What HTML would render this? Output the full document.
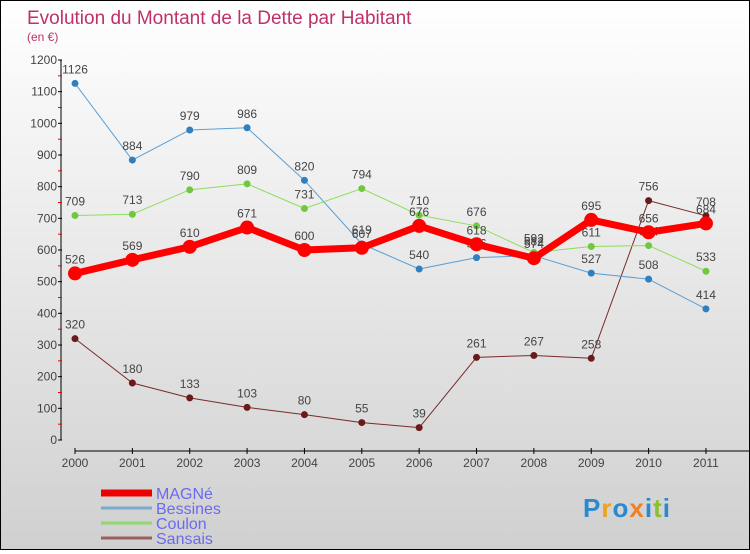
<!DOCTYPE html>
<html><head><meta charset="utf-8"><style>
html,body{margin:0;padding:0}
body{width:750px;height:550px;overflow:hidden;font-family:"Liberation Sans",sans-serif}
#wrap{position:relative;width:748px;height:548px;border:1px solid #000;background:linear-gradient(#fff 0%,#ececec 40%,#d0d0d0 100%)}
</style></head><body>
<div id="wrap">
<svg id="chart" width="748" height="548" font-family="Liberation Sans, sans-serif"></svg>
</div>
<script>
const years=["2000","2001","2002","2003","2004","2005","2006","2007","2008","2009","2010","2011"];
const magne=[526,569,610,671,600,607,676,618,574,695,656,684];
const bessines=[1126,884,979,986,820,619,540,576,582,527,508,414];
const coulon=[709,713,790,809,731,794,710,676,592,611,614,533];
const sansais=[320,180,133,103,80,55,39,261,267,258,756,708];
const yTicks=[0,100,200,300,400,500,600,700,800,900,1000,1100,1200];
const NS="http://www.w3.org/2000/svg";
const svg=document.getElementById('chart');
const X=i=>74+i*57.36;
const Y=v=>439-v*380/1200;
function mk(t,a,p){const e=document.createElementNS(NS,t);for(const k in a)e.setAttribute(k,a[k]);(p||svg).appendChild(e);return e;}
let t=mk('text',{x:26,y:23,fill:'#c0306a','font-size':19});t.textContent='Evolution du Montant de la Dette par Habitant';


t=mk('text',{x:26,y:40,fill:'#c0306a','font-size':12});t.textContent='(en €)';


// y axis
let ax=mk('line',{x1:60,y1:Y(1200),x2:60,y2:Y(0),stroke:'#000'});


yTicks.forEach(v=>{
 mk('line',{x1:57,x2:61,y1:Y(v),y2:Y(v),stroke:'#000'});
 if(v<1200) mk('line',{x1:57,x2:61,y1:Y(v+50),y2:Y(v+50),stroke:'#e00'});
 const l=mk('text',{x:56,y:Y(v)+4,'text-anchor':'end','font-size':12,fill:'#444'});l.textContent=v;
 
 
});
ax=mk('line',{x1:X(0),y1:450,x2:748,y2:450,stroke:'#000'});


years.forEach((y,i)=>{
 mk('line',{x1:X(i),x2:X(i),y1:447,y2:453,stroke:'#000'});
 const l=mk('text',{x:X(i),y:466,'text-anchor':'middle','font-size':12,fill:'#444'});l.textContent=y;
 
 
});
function series(vals,color,w,r,dot,name){
 const g=mk('g',{});
 
 
 mk('polyline',{points:vals.map((v,i)=>X(i)+','+Y(v)).join(' '),fill:'none',stroke:color,'stroke-width':w,'stroke-linejoin':'round'},g);
 vals.forEach((v,i)=>{
  const c=mk('circle',{cx:X(i),cy:Y(v),r:r,fill:dot},g);
  
  
  const l=mk('text',{x:X(i),y:Y(v)-10,'text-anchor':'middle','font-size':12,fill:'#444'},g);l.textContent=v;
  
  
 });
}
series(sansais,'#7a2a2a',1,3.5,'#6b1a1a','sansais');
series(bessines,'#5a9fd4',1,3.5,'#3080c0','bessines');
series(coulon,'#8fdc5a',1,3.5,'#70c840','coulon');
series(magne,'#f00',7,7,'#f00','magne');
// legend
const leg=[['MAGNé','#e00',7],['Bessines','#7aaad0',3],['Coulon','#90d870',3],['Sansais','#9a6060',3]];
leg.forEach((d,i)=>{
 const y=492+i*15;
 const g=mk('g',{});
 
 
 mk('line',{x1:100,x2:151,y1:y,y2:y,stroke:d[1],'stroke-width':d[2]},g);
 const l=mk('text',{x:155,y:y+6,'font-size':16,fill:'#6a6af0'},g);l.textContent=d[0];
});
// logo
const lg=mk('text',{x:582,y:516,'font-size':26,'font-weight':'bold','letter-spacing':'1'});


[['P','#2a8ad0'],['r','#f0a020'],['o','#2a8ad0'],['x','#f08020'],['i','#2a8ad0'],['t','#8ac030'],['i','#2a8ad0']].forEach(c=>{const s=mk('tspan',{fill:c[1]},lg);s.textContent=c[0];});
</script>
</body></html>
